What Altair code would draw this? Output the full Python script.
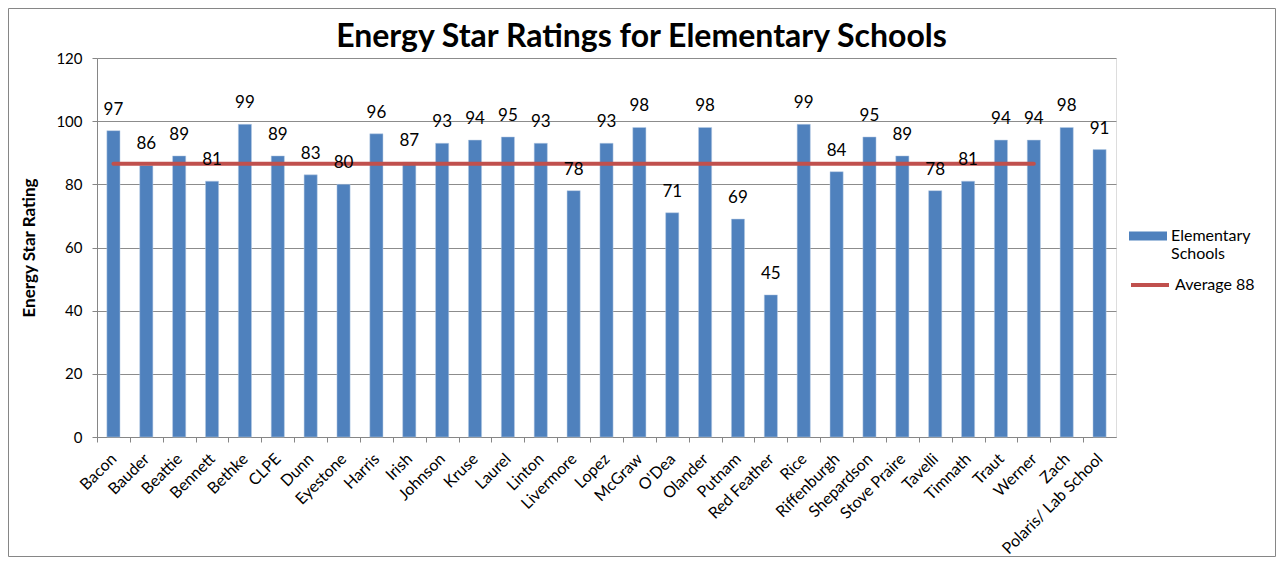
import altair as alt
import pandas as pd

schools = ["Bacon", "Bauder", "Beattie", "Bennett", "Bethke", "CLPE", "Dunn",
           "Eyestone", "Harris", "Irish", "Johnson", "Kruse", "Laurel", "Linton",
           "Livermore", "Lopez", "McGraw", "O'Dea", "Olander", "Putnam",
           "Red Feather", "Rice", "Riffenburgh", "Shepardson", "Stove Praire",
           "Tavelli", "Timnath", "Traut", "Werner", "Zach", "Polaris/ Lab School"]
ratings = [97, 86, 89, 81, 99, 89, 83, 80, 96, 87, 93, 94, 95, 93, 78, 93, 98,
           71, 98, 69, 45, 99, 84, 95, 89, 78, 81, 94, 94, 98, 91]
average = [86.5, 86.5, 86.5, 86.5, 86.5, 86.5, 86.5, 86.5, 86.5, 86.5, 86.5,
           86.5, 86.5, 86.5, 86.5, 86.5, 86.5, 86.5, 86.5, 86.5, 86.5, 86.5,
           86.5, 86.5, 86.5, 86.5, 86.5, 86.5, 86.5, None, None]
bar_series = "Elementary Schools"
avg_series = "Average 88"
y_ticks = [0, 20, 40, 60, 80, 100, 120]

df = pd.DataFrame({"school": schools, "rating": ratings, "average": average})
df["series"] = bar_series
df["avg_series"] = avg_series

FONT = "Lato"
W, H = 1019, 379
PAD = {"left": 89, "top": 50, "right": 160, "bottom": 120}
step = W / len(schools)

x_enc = alt.X(
    "school:N", sort=schools,
    scale=alt.Scale(paddingInner=0.6, paddingOuter=0.3),
    axis=alt.Axis(title=None, labelAngle=-45, labelAlign="right",
                  labelBaseline="middle", labelFontSize=16, labelPadding=14,
                  tickSize=5, tickOffset=-step / 2, labelOffset=step / 2,
                  domainColor="#868686", tickColor="#868686", labelColor="#000000",
                  labelFont=FONT, grid=False),
)

y_scale = alt.Scale(domain=[0, 120], nice=False)

bars = alt.Chart(df).mark_bar(stroke="#B9CDE5", strokeWidth=0.5).encode(
    x=x_enc,
    y=alt.Y("rating:Q", scale=y_scale,
            axis=alt.Axis(title="Energy Star Rating", values=y_ticks, tickSize=5,
                          labelFontSize=15, labelPadding=10, titleFontSize=17,
                          titleFont=FONT, labelFont=FONT, titleFontWeight="bold",
                          titlePadding=17, domainColor="#868686", tickColor="#868686",
                          gridColor="#8C8C8C", gridWidth=1, labelColor="#000000",
                          titleColor="#000000")),
    color=alt.Color("series:N",
                    scale=alt.Scale(domain=[bar_series], range=["#4F81BD"]),
                    legend=alt.Legend(title=None, orient="none", legendX=1032, legendY=159,
                                      symbolType="M-1,-0.24H1V0.24H-1Z", symbolSize=1444,
                                      symbolStrokeWidth=0, labelFontSize=16, labelFont=FONT,
                                      labelColor="#000000", labelOffset=4,
                                      labelExpr="split(datum.label, ' ')")),
)

line = alt.Chart(df).mark_line(strokeWidth=4, strokeCap="round").encode(
    x=alt.X("school:N", sort=schools),
    y=alt.Y("average:Q", scale=y_scale),
    stroke=alt.Stroke("avg_series:N",
                      scale=alt.Scale(domain=[avg_series], range=["#C0504D"]),
                      legend=alt.Legend(title=None, orient="none", legendX=1032, legendY=206,
                                        symbolType="stroke", symbolSize=1444,
                                        symbolStrokeWidth=4, labelFontSize=16, labelFont=FONT,
                                        labelColor="#000000", labelOffset=4)),
)

labels = alt.Chart(df).mark_text(dy=-21, baseline="middle", fontSize=17, font=FONT,
                                 color="#000000").encode(
    x=alt.X("school:N", sort=schools),
    y=alt.Y("rating:Q", scale=y_scale),
    text=alt.Text("rating:Q"),
)

# decorative chart-area frame around the whole figure
frame = alt.Chart(pd.DataFrame({"f": [0]})).mark_rect(
    fill="transparent", stroke="#868686", strokeWidth=1
).encode(
    x=alt.value(-PAD["left"] + 0.5), x2=alt.value(W + PAD["right"] - 0.5),
    y=alt.value(-PAD["top"] + 0.5), y2=alt.value(H + PAD["bottom"] - 0.5),
)

chart = alt.layer(frame, bars, line, labels).properties(
    width=W, height=H,
    autosize=alt.AutoSizeParams(type="none"),
    padding=PAD,
    title=alt.TitleParams("Energy Star Ratings for Elementary Schools", fontSize=32,
                          font=FONT, fontWeight="bold", anchor="middle", dx=35, dy=54,
                          offset=8, color="#000000"),
).configure_view(strokeWidth=0).configure(background="#FFFFFF")

chart.save("out.html", embed_options={"renderer": "svg", "actions": False})
